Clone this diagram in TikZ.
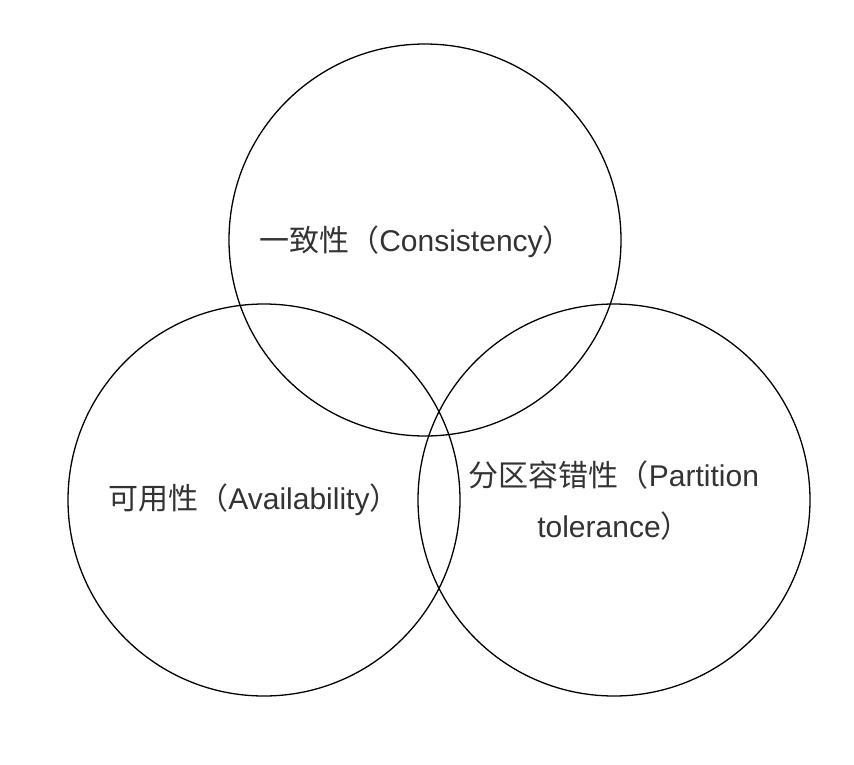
\documentclass[tikz,border=0pt]{standalone}
\usepackage{fontspec}
\setmainfont{Liberation Sans}
\newfontfamily\cjk{Noto Sans CJK SC}
\begin{document}
\begin{tikzpicture}[x=1pt,y=-1pt,
  ring/.style={draw=black,line width=1.3pt},
  lbl/.style={font=\fontsize{30}{51}\selectfont,text=black!80,align=center}]
\useasboundingbox (0,0) rectangle (854,764);
\fill[white] (0,0) rectangle (854,764);
\draw[ring] (425,240) circle (196);
\draw[ring] (264,500) circle (196);
\draw[ring] (614,500) circle (196);
\node[lbl] (c) at (416,242) {{\cjk 一致性（}Consistency{\cjk ）}};
\node[lbl] (a) at (254,500) {{\cjk 可用性（}Availability{\cjk ）}};
\node[lbl] (p) at (614,501) {{\cjk 分区容错性（}Partition\\tolerance{\cjk ）}};
\end{tikzpicture}
\end{document}
